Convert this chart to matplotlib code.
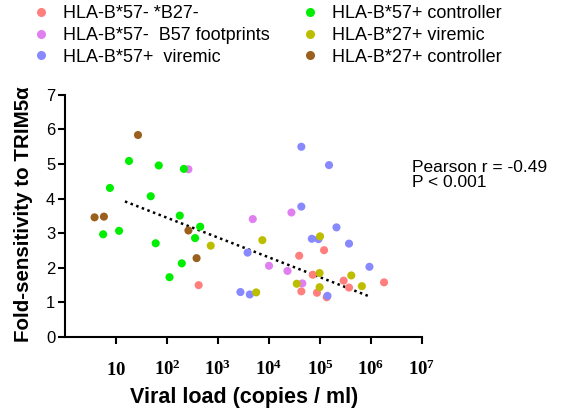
import matplotlib
matplotlib.use("Agg")
import matplotlib.pyplot as plt
from matplotlib.lines import Line2D

plt.rcParams["font.family"] = ["Liberation Sans", "DejaVu Sans"]
plt.rcParams["mathtext.fontset"] = "custom"
plt.rcParams["mathtext.rm"] = "Liberation Serif:bold"
plt.rcParams["mathtext.default"] = "rm"

# viral load (copies/ml) and fold-sensitivity per group
neg_x = [417, 1.2e5, 3.9e4, 7.2e4, 2.9e5, 1.8e6, 3.7e5, 4.3e4, 8.7e4, 1.35e5]
neg_y = [1.50, 2.51, 2.35, 1.80, 1.63, 1.58, 1.43, 1.32, 1.28, 1.15]

fp_x = [263, 4800, 2.75e4, 1.0e4, 2.3e4, 4.5e4]
fp_y = [4.85, 3.41, 3.60, 2.06, 1.91, 1.55]

b57v_x = [3800, 2750, 4200, 4.3e4, 1.5e5, 4.3e4, 2.1e5, 6.9e4, 9.3e4, 3.7e5, 9.3e5, 1.4e5]
b57v_y = [2.44, 1.30, 1.23, 5.50, 4.97, 3.77, 3.17, 2.84, 2.83, 2.70, 2.03, 1.19]

b57c_x = [18, 69, 214, 7.6, 48, 178, 5.6, 11.5, 447, 355, 60, 195, 112]
b57c_y = [5.09, 4.96, 4.86, 4.31, 4.07, 3.51, 2.97, 3.07, 3.19, 2.86, 2.71, 2.13, 1.73]

b27v_x = [720, 5600, 7400, 1.0e5, 9.8e4, 4.1e5, 3.5e4, 6.6e5, 9.8e4]
b27v_y = [2.64, 1.29, 2.80, 2.91, 1.85, 1.78, 1.54, 1.47, 1.44]

b27c_x = [3.8, 5.8, 27, 263, 380]
b27c_y = [3.46, 3.48, 5.84, 3.08, 2.28]

# dotted regression line, as drawn
fit_x = [15, 8.7e5]
fit_y = [3.92, 1.19]

groups = [
    ("HLA-B*57- *B27-", neg_x, neg_y, "#ff7f7f"),
    ("HLA-B*57-  B57 footprints", fp_x, fp_y, "#e080f0"),
    ("HLA-B*57+  viremic", b57v_x, b57v_y, "#8888ff"),
    ("HLA-B*57+ controller", b57c_x, b57c_y, "#00ee00"),
    ("HLA-B*27+ viremic", b27v_x, b27v_y, "#bdbd00"),
    ("HLA-B*27+ controller", b27c_x, b27c_y, "#9b5f1e"),
]

x_ticks = [10, 1e2, 1e3, 1e4, 1e5, 1e6, 1e7]
x_ticklabels = ["$10$", "$10^{2}$", "$10^{3}$", "$10^{4}$", "$10^{5}$", "$10^{6}$", "$10^{7}$"]

fig = plt.figure(figsize=(5.65, 4.09), dpi=100)
ax = fig.add_axes([0.115, 0.176, 0.632, 0.592])

for label, xs, ys, color in groups:
    ax.scatter(xs, ys, s=34, color=color, edgecolors="none", zorder=3)

ax.plot(fit_x, fit_y, color="black", lw=1.8, linestyle=(0, (1, 1.4)), zorder=2)

ax.set_xscale("log")
ax.set_xlim(1, 1e7)
ax.set_ylim(0, 7)
ax.set_xticks(x_ticks)
ax.set_xticklabels(x_ticklabels, fontsize=13.5)
for lab in ax.get_xticklabels():
    lab.set_verticalalignment("baseline")
ax.minorticks_off()
ax.set_yticks(range(8))
ax.tick_params(axis="y", labelsize=12, width=1.5, length=5, pad=2)
ax.tick_params(axis="x", width=1.5, length=5, pad=22)
for side in ["top", "right"]:
    ax.spines[side].set_visible(False)
for side in ["left", "bottom"]:
    ax.spines[side].set_linewidth(1.5)

fig.text(0.432, 0.014, "Viral load (copies / ml)", fontsize=15.5, fontweight="bold",
         ha="center", va="baseline")
fig.text(0.041, 0.477, "Fold-sensitivity to TRIM5\u03b1", fontsize=14.8, fontweight="bold",
         ha="center", va="center", rotation=90)

fig.text(0.729, 0.572, "Pearson r = -0.49\nP < 0.001", fontsize=12.5, va="center",
         linespacing=1.0)

handles = [Line2D([], [], marker="o", ls="none", color=c, markersize=6.5, markeredgewidth=0)
           for _, _, _, c in groups]
fig.legend(handles, [g[0] for g in groups], ncol=2, loc="upper left",
           bbox_to_anchor=(0.0566, 0.9866), frameon=False, fontsize=13,
           borderaxespad=0, borderpad=0,
           handlelength=1, handletextpad=0.72, labelspacing=0.25, columnspacing=1.7)

fig.savefig("out.png", dpi=100)
